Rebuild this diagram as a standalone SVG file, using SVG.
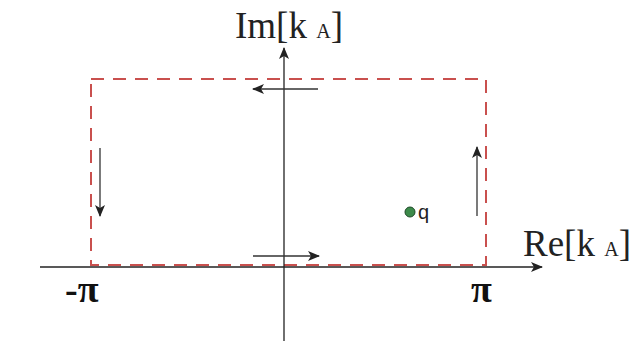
<svg xmlns="http://www.w3.org/2000/svg" width="634" height="341" viewBox="0 0 634 341">
<style>
.axis{stroke:#222;stroke-width:1.3;fill:none}
.arr{stroke:#333;stroke-width:1.3;fill:none}
.dash{stroke:#c9504e;stroke-width:2;fill:none;stroke-dasharray:13,9}
.lbl{font-family:"Liberation Serif",serif;fill:#222}
.pi{font-family:"Liberation Serif",serif;fill:#111;font-weight:bold}
</style>
<defs>
<marker id="ah" viewBox="0 0 12 10" refX="11" refY="5" markerWidth="12" markerHeight="10" markerUnits="userSpaceOnUse" orient="auto">
<path d="M0,0 L12,5 L0,10 L3,5 Z" fill="#222"/>
</marker>
</defs>
<rect width="634" height="341" fill="#fff"/>
<g id="contour">
<rect x="91" y="79" width="395" height="186" class="dash"/>
</g>
<g id="connectors">
<line x1="40" y1="267" x2="542" y2="267" class="axis" marker-end="url(#ah)"/>
<line x1="284" y1="341" x2="284" y2="48" class="axis" marker-end="url(#ah)"/>
<line x1="318" y1="89" x2="253" y2="89" class="arr" marker-end="url(#ah)"/>
<line x1="100" y1="148" x2="100" y2="216" class="arr" marker-end="url(#ah)"/>
<line x1="253" y1="256" x2="319" y2="256" class="arr" marker-end="url(#ah)"/>
<line x1="477" y1="216" x2="477" y2="147" class="arr" marker-end="url(#ah)"/>
</g>
<g id="labels">
<text class="lbl" x="235" y="38" font-size="37">Im[k <tspan font-size="20">A</tspan>]</text>
<text class="lbl" x="523" y="256" font-size="37">Re[k <tspan font-size="20">A</tspan>]</text>
<text class="pi" x="65" y="302" font-size="38">-π</text>
<text class="pi" x="471" y="302" font-size="38">π</text>
</g>
<g id="q">
<circle cx="410" cy="212" r="5" fill="#3c8a4a" stroke="#1e4a28" stroke-width="1"/>
<text x="418" y="219" font-family="Liberation Sans,sans-serif" font-size="20" fill="#222">q</text>
</g>
</svg>
